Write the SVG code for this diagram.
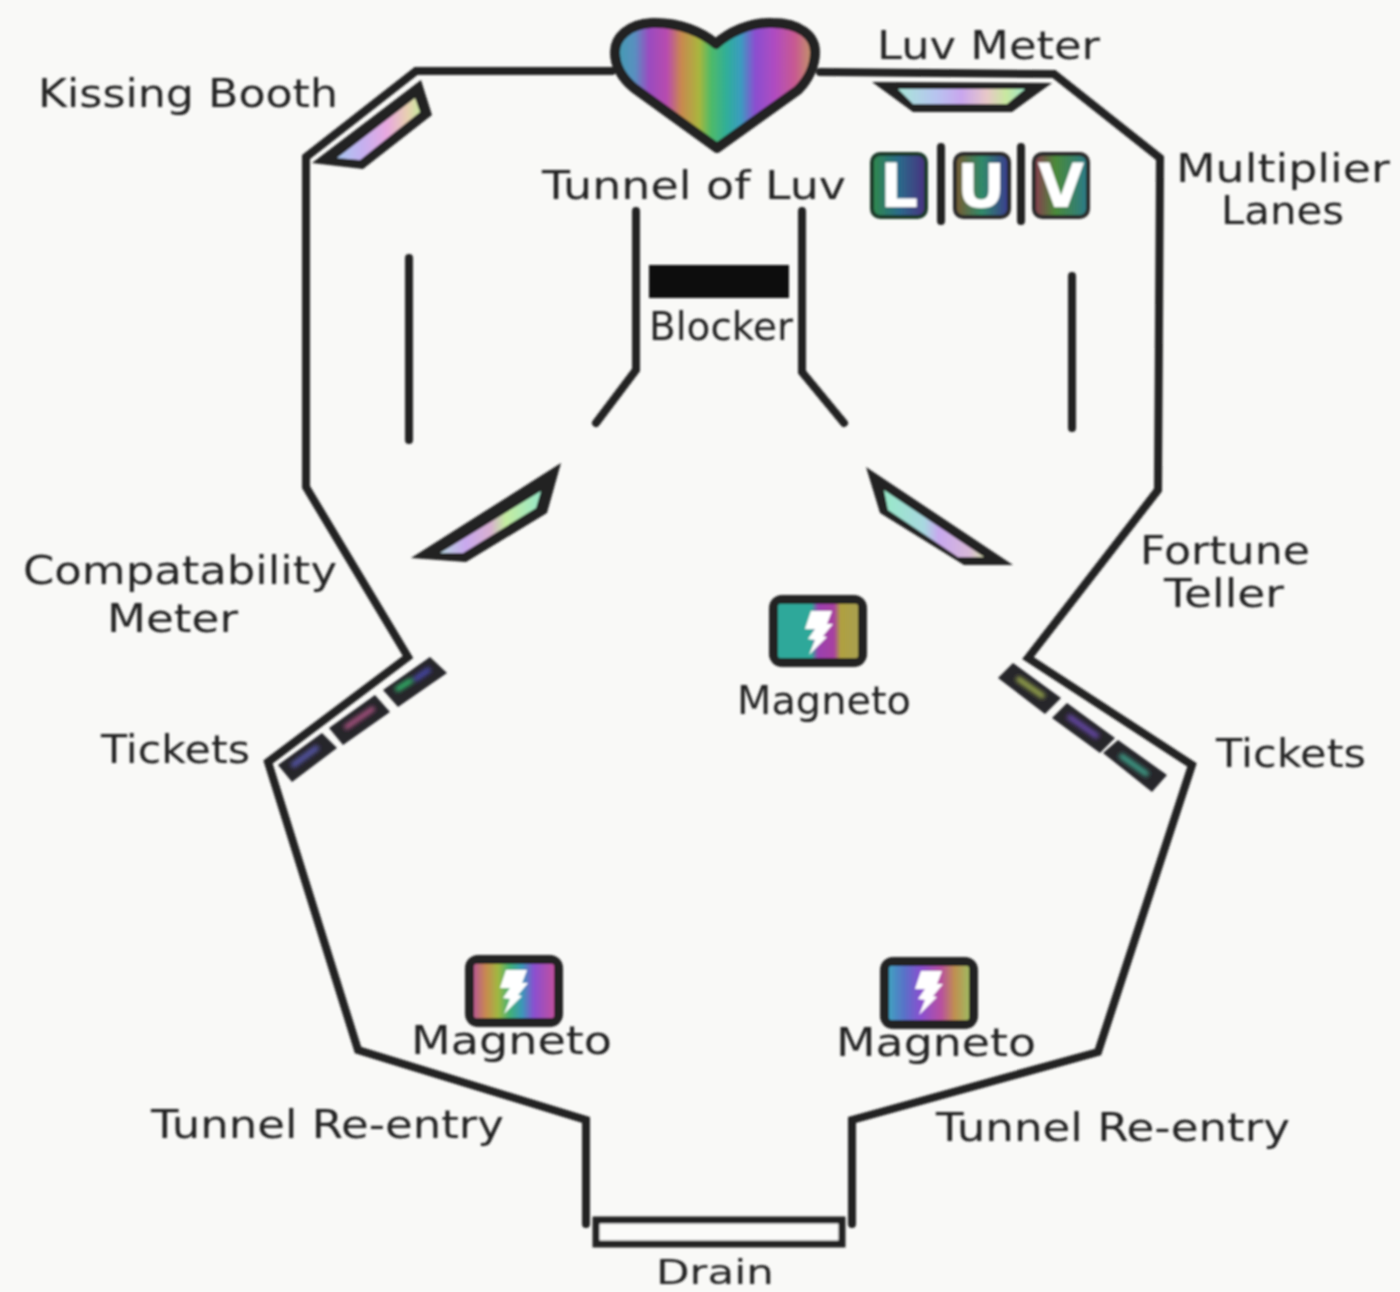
<svg xmlns="http://www.w3.org/2000/svg" width="1400" height="1292" viewBox="0 0 1400 1292">
<style>
.t{font-family:"DejaVu Sans","Liberation Sans",sans-serif;font-size:39px;fill:#222}
.w{fill:none;stroke:#222;stroke-width:8;stroke-linejoin:miter;stroke-linecap:round}
.dk{fill:#222}
.fr{fill:#222}
.tk{fill:#27262b}
.bolt{fill:#fff}
.luvL{font-family:"DejaVu Sans","Liberation Sans",sans-serif;font-weight:bold;font-size:60px;fill:#fff;text-anchor:middle}
</style>
<defs>
<filter id="soft" x="-2%" y="-2%" width="104%" height="104%"><feGaussianBlur stdDeviation="0.8"/></filter>
<filter id="glow" x="-20%" y="-60%" width="140%" height="220%"><feGaussianBlur stdDeviation="2"/></filter>
<linearGradient id="heartG" x1="0" x2="1" y1="0" y2="0">
<stop offset="0" stop-color="#3f9fb0"/><stop offset=".1" stop-color="#5a8fc0"/><stop offset=".17" stop-color="#9a4cc0"/><stop offset=".26" stop-color="#b84cae"/><stop offset=".33" stop-color="#c98850"/><stop offset=".42" stop-color="#a9b63e"/><stop offset=".48" stop-color="#4fba68"/><stop offset=".56" stop-color="#2fae9a"/><stop offset=".63" stop-color="#3d9bc0"/><stop offset=".7" stop-color="#8a4fd0"/><stop offset=".8" stop-color="#b04cc0"/><stop offset=".9" stop-color="#c85a90"/><stop offset="1" stop-color="#c0a060"/>
</linearGradient>
<linearGradient id="pale" x1="0" x2="1" y1="0" y2="0">
<stop offset="0" stop-color="#a8e6d8"/><stop offset=".3" stop-color="#b7c4f0"/><stop offset=".5" stop-color="#c9a6ee"/><stop offset=".7" stop-color="#e8c8c8"/><stop offset=".85" stop-color="#c8e8a0"/><stop offset="1" stop-color="#a0e8c8"/>
</linearGradient>
<linearGradient id="paleK" x1="0" x2="1" y1="0" y2="0">
<stop offset="0" stop-color="#a8c8f0"/><stop offset=".3" stop-color="#c4b0f0"/><stop offset=".6" stop-color="#e8a8e0"/><stop offset=".85" stop-color="#e8d0b0"/><stop offset="1" stop-color="#c8e8a0"/>
</linearGradient>
<linearGradient id="paleL" x1="0" x2="1" y1="0" y2="0">
<stop offset="0" stop-color="#b6d8e0"/><stop offset=".25" stop-color="#c8a8ee"/><stop offset=".5" stop-color="#d8b0d0"/><stop offset=".65" stop-color="#c4eca0"/><stop offset="1" stop-color="#98e8c8"/>
</linearGradient>
<linearGradient id="paleR" x1="0" x2="1" y1="0" y2="0">
<stop offset="0" stop-color="#98e8c8"/><stop offset=".4" stop-color="#a8d8e0"/><stop offset=".55" stop-color="#c8a8ee"/><stop offset=".85" stop-color="#d8b8d8"/><stop offset="1" stop-color="#d8e0b0"/>
</linearGradient>
<linearGradient id="m1" x1="0" x2="1" y1="0" y2="0">
<stop offset="0" stop-color="#2fa89a"/><stop offset=".42" stop-color="#2fa89a"/><stop offset=".5" stop-color="#9a3fb0"/><stop offset=".7" stop-color="#a83fa0"/><stop offset=".78" stop-color="#b0a040"/><stop offset="1" stop-color="#a8a050"/>
</linearGradient>
<linearGradient id="m2" x1="0" x2="1" y1="0" y2="0">
<stop offset="0" stop-color="#b85a90"/><stop offset=".15" stop-color="#c88a50"/><stop offset=".3" stop-color="#a0b840"/><stop offset=".45" stop-color="#40b078"/><stop offset=".6" stop-color="#3a98b8"/><stop offset=".75" stop-color="#8a4fd0"/><stop offset="1" stop-color="#c04fa0"/>
</linearGradient>
<linearGradient id="m3" x1="0" x2="1" y1="0" y2="0">
<stop offset="0" stop-color="#40a0c0"/><stop offset=".2" stop-color="#5a70c8"/><stop offset=".4" stop-color="#8a4fd0"/><stop offset=".65" stop-color="#b84fa0"/><stop offset=".82" stop-color="#c09050"/><stop offset="1" stop-color="#a0b860"/>
</linearGradient>
<linearGradient id="dL" x1="0" x2="1" y1="0" y2="0"><stop offset="0" stop-color="#2f8a4a"/><stop offset=".5" stop-color="#2a6a8a"/><stop offset="1" stop-color="#4a2f80"/></linearGradient>
<linearGradient id="dU" x1="0" x2="1" y1="0" y2="0"><stop offset="0" stop-color="#7a5a30"/><stop offset=".5" stop-color="#2f8a6a"/><stop offset="1" stop-color="#3a3a90"/></linearGradient>
<linearGradient id="dV" x1="0" x2="1" y1="0" y2="0"><stop offset="0" stop-color="#8a3a50"/><stop offset=".4" stop-color="#4a8a3a"/><stop offset="1" stop-color="#2a7a8a"/></linearGradient>
<path id="bolt" class="bolt" d="M-7,-21 L14,-21 L9,-8 L15,-8 L5,4 L9,5 L-9,23 L-3,8 L-10,7 L-3,-3 L-13,-3 Z"/>
</defs>
<rect width="1400" height="1292" fill="#f9f9f7"/>
<g filter="url(#soft)">
<g id="connectors">
<path class="w" d="M612,71 L416,71 L306,157 L306,487 L408,657 L268,762 L358,1050 L586,1120 L586,1224"/>
<path class="w" d="M820,72 L1054,74 L1160,158 L1158,490 L1028,658 L1192,765 L1098,1052 L852,1120 L852,1224"/>
<path class="w" d="M636,211 L636,370 L596,423"/>
<path class="w" d="M802,211 L802,372 L844,423"/>
<path class="w" d="M409,258 L409,440"/>
<path class="w" d="M1072,276 L1072,428"/>
</g>
<g id="heart"><path d="M716,44 C703,33 680,22 652,23 C628,24 615,38 615,52 C615,66 622,78 634,88 L717,148 L798,90 C808,80 815,66 815,52 C815,36 800,23 772,23 C750,22 728,33 716,44 Z" fill="url(#heartG)" stroke="#222" stroke-width="10" stroke-linejoin="round"/></g>
<g id="luv-meter"><path class="dk" d="M872,82 L1052,83 L1012,112 L913,112 Z"/><path d="M898,89 L1025,89 L1007,104 L913,104 Z" fill="url(#pale)"/><text class="t" x="877" y="59" textLength="223" lengthAdjust="spacingAndGlyphs">Luv Meter</text></g>
<g id="kissing-booth"><path class="dk" d="M421,80 L432,115 L363,169 L312,163 Z"/><path d="M415,98 L420,112 L360,160 L337,158 Z" fill="url(#paleK)"/><text class="t" x="38" y="107" textLength="300" lengthAdjust="spacingAndGlyphs">Kissing Booth</text></g>
<g id="tunnel-of-luv"><text class="t" x="542" y="199" textLength="304" lengthAdjust="spacingAndGlyphs">Tunnel of Luv</text></g>
<g id="luv-lanes">
<rect x="872" y="154" width="54" height="63" rx="8" fill="url(#dL)" stroke="#1f3a2a" stroke-width="4"/><text class="luvL" x="899" y="207">L</text>
<rect x="955" y="154" width="54" height="63" rx="8" fill="url(#dU)" stroke="#2a2a2a" stroke-width="4"/><text class="luvL" x="981" y="207">U</text>
<rect x="1034" y="154" width="54" height="63" rx="8" fill="url(#dV)" stroke="#2a2a2a" stroke-width="4"/><text class="luvL" x="1061" y="207">V</text>
<path d="M941,147 V221 M1021,147 V221" stroke="#222" stroke-width="8" stroke-linecap="round"/>
<text class="t" x="1176" y="182" textLength="214" lengthAdjust="spacingAndGlyphs">Multiplier</text><text class="t" x="1221" y="224" textLength="123" lengthAdjust="spacingAndGlyphs">Lanes</text>
</g>
<g id="blocker"><rect x="649" y="265" width="140" height="33" fill="#111"/><text class="t" x="649" y="340" textLength="144" lengthAdjust="spacingAndGlyphs">Blocker</text></g>
<g id="left-slingshot"><path class="dk" d="M561,463 L547,513 L466,562 L411,558 Z"/><path d="M541,491 L536,508 L463,553 L440,553 Z" fill="url(#paleL)"/></g>
<g id="right-slingshot"><path class="dk" d="M866,467 L880,513 L964,565 L1013,565 Z"/><path d="M884,490 L888,510 L958,557 L984,557 Z" fill="url(#paleR)"/></g>
<g id="magneto-center"><rect class="fr" x="769" y="595" width="98" height="72" rx="13"/><rect x="778" y="604" width="80" height="54" rx="2" fill="url(#m1)"/><use href="#bolt" transform="translate(818,632)"/><text class="t" x="737" y="714" textLength="174" lengthAdjust="spacingAndGlyphs">Magneto</text></g>
<g id="magneto-left"><rect class="fr" x="465" y="955" width="98" height="72" rx="13"/><rect x="474" y="964" width="80" height="54" rx="2" fill="url(#m2)"/><use href="#bolt" transform="translate(513,991)"/><text class="t" x="411" y="1054" textLength="201" lengthAdjust="spacingAndGlyphs">Magneto</text></g>
<g id="magneto-right"><rect class="fr" x="880" y="957" width="98" height="72" rx="13"/><rect x="889" y="966" width="80" height="54" rx="2" fill="url(#m3)"/><use href="#bolt" transform="translate(928,992)"/><text class="t" x="836" y="1056" textLength="200" lengthAdjust="spacingAndGlyphs">Magneto</text></g>
<g id="fortune-teller"><text class="t" x="1140" y="564" textLength="170" lengthAdjust="spacingAndGlyphs">Fortune</text><text class="t" x="1164" y="607" textLength="120" lengthAdjust="spacingAndGlyphs">Teller</text></g>
<g id="compatability-meter"><text class="t" x="23" y="584" textLength="314" lengthAdjust="spacingAndGlyphs">Compatability</text><text class="t" x="107" y="632" textLength="131" lengthAdjust="spacingAndGlyphs">Meter</text></g>
<g id="tickets-left">
<path class="tk" d="M278,765 L322,733 L337,748 L292,782 Z"/><path class="tk" d="M329,728 L375,695 L390,712 L343,745 Z"/><path class="tk" d="M383,690 L430,657 L447,673 L398,707 Z"/>
<g filter="url(#glow)"><path d="M292,766 L318,747" stroke="#5a5ab0" stroke-width="5"/><path d="M345,728 L374,708" stroke="#c05a90" stroke-width="4"/><path d="M396,690 L412,680" stroke="#30c070" stroke-width="5"/><path d="M414,680 L430,669" stroke="#4a4ab0" stroke-width="5"/></g>
<text class="t" x="101" y="763" textLength="149" lengthAdjust="spacingAndGlyphs">Tickets</text>
</g>
<g id="tickets-right">
<path class="tk" d="M998,678 L1013,663 L1061,698 L1045,714 Z"/><path class="tk" d="M1052,718 L1067,703 L1115,738 L1100,753 Z"/><path class="tk" d="M1103,753 L1118,740 L1167,775 L1152,792 Z"/>
<g filter="url(#glow)"><path d="M1017,678 L1044,697" stroke="#a0b050" stroke-width="5"/><path d="M1068,716 L1098,737" stroke="#6a4ab0" stroke-width="5"/><path d="M1120,755 L1148,775" stroke="#40a890" stroke-width="5"/></g>
<text class="t" x="1216" y="767" textLength="150" lengthAdjust="spacingAndGlyphs">Tickets</text>
</g>
<g id="tunnel-reentry-left"><text class="t" x="151" y="1138" textLength="353" lengthAdjust="spacingAndGlyphs">Tunnel Re-entry</text></g>
<g id="tunnel-reentry-right"><text class="t" x="936" y="1141" textLength="354" lengthAdjust="spacingAndGlyphs">Tunnel Re-entry</text></g>
<g id="drain"><rect x="596" y="1220" width="246" height="24" fill="#fbfbf9" stroke="#222" stroke-width="7"/><text class="t" x="656" y="1284" style="font-size:33px" textLength="118" lengthAdjust="spacingAndGlyphs">Drain</text></g>
</g>
</svg>
